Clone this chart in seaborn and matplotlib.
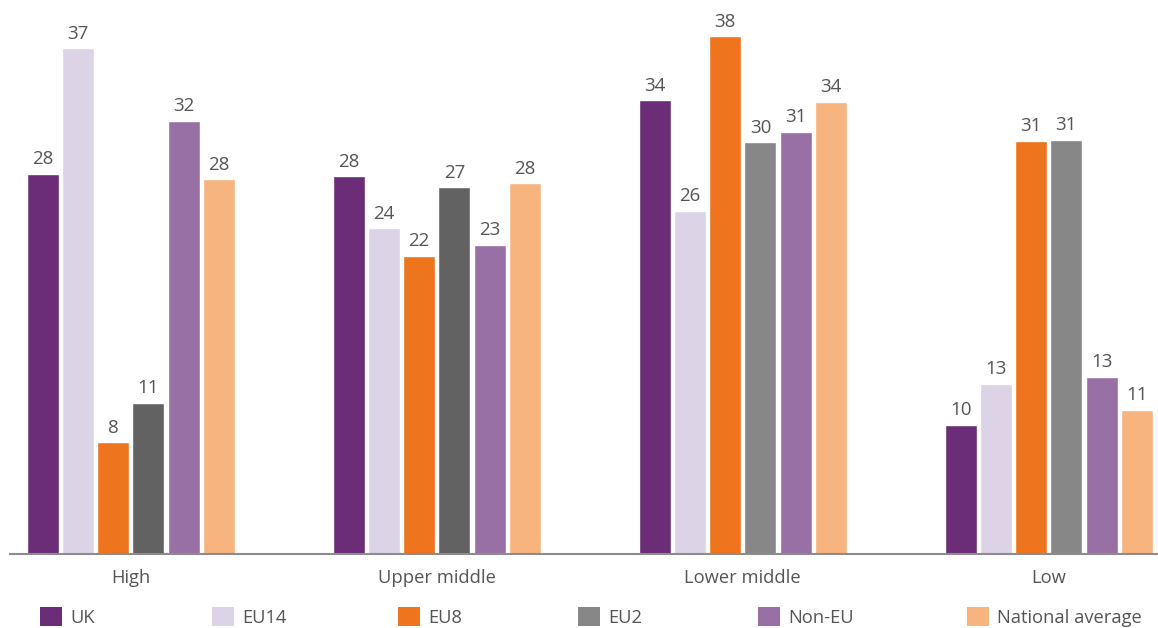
import matplotlib
matplotlib.use("Agg")
import matplotlib.pyplot as plt
from matplotlib.patches import Patch
import seaborn as sns
import pandas as pd

# ---- data ----
groups = ["High", "Upper middle", "Lower middle", "Low"]
series = ["UK", "EU14", "EU8", "EU2", "Non-EU", "National average"]
uk = [27.9, 27.7, 33.3, 9.5]
eu14 = [37.1, 23.9, 25.2, 12.5]
eu8 = [8.2, 21.9, 38.0, 30.3]
eu2 = [11.1, 26.9, 30.2, 30.4]
non_eu = [31.8, 22.7, 31.0, 13.0]
nat_avg = [27.5, 27.2, 33.2, 10.6]
# printed labels
uk_lab = [28, 28, 34, 10]
eu14_lab = [37, 24, 26, 13]
eu8_lab = [8, 22, 38, 31]
eu2_lab = [11, 27, 30, 31]
non_eu_lab = [32, 23, 31, 13]
nat_avg_lab = [28, 28, 34, 11]

colors = ["#6b2d77", "#dcd3e6", "#ee741d", "#878787", "#9970a5", "#f7b47f"]
eu2_group_colors = ["#626262", "#626262", "#878787", "#878787"]

vals = [uk, eu14, eu8, eu2, non_eu, nat_avg]
labs = [uk_lab, eu14_lab, eu8_lab, eu2_lab, non_eu_lab, nat_avg_lab]

df = pd.DataFrame([
    {"group": g, "series": s, "value": v[i]}
    for s, v in zip(series, vals) for i, g in enumerate(groups)
])

sns.set_style("white")
plt.rcParams["font.family"] = ["Open Sans", "DejaVu Sans"]

fig = plt.figure(figsize=(11.58, 6.28), dpi=100)
ax = fig.add_axes([10 / 1158, 74 / 628, 1148 / 1158, 554 / 628])

sns.barplot(data=df, x="group", y="value", hue="series", order=groups,
            hue_order=series, palette=colors, saturation=1, width=0.69,
            gap=0.09, legend=False, ax=ax)

for i, p in enumerate(ax.containers[3].patches):
    p.set_facecolor(eu2_group_colors[i])

text_color = "#555555"
for cont, lab in zip(ax.containers, labs):
    ax.bar_label(cont, labels=[str(l) for l in lab], padding=4,
                 fontsize=13.5, color=text_color)

ax.set_ylim(0, 40.65)
ax.set_xlim(-0.395, 3.357)
ax.set_xlabel("")
ax.set_ylabel("")
ax.set_yticks([])
for s in ["top", "left", "right"]:
    ax.spines[s].set_visible(False)
ax.spines["bottom"].set_color("#8c8c8c")
ax.spines["bottom"].set_linewidth(1.5)
ax.tick_params(axis="x", length=0, pad=11, labelsize=13.2, labelcolor=text_color)

legend_x = [40, 212, 398, 578, 758, 967]
leg_colors = colors
for name, c, x in zip(series, leg_colors, legend_x):
    fig.legend(handles=[Patch(facecolor=c, edgecolor="none", label=name)],
               loc="center left", bbox_to_anchor=(x / 1158, 1 - 617 / 628),
               frameon=False, borderpad=0, borderaxespad=0,
               handlelength=1.2, handleheight=1.2, handletextpad=0.45,
               fontsize=13.2, labelcolor=text_color)

fig.savefig("out.png", dpi=100)
